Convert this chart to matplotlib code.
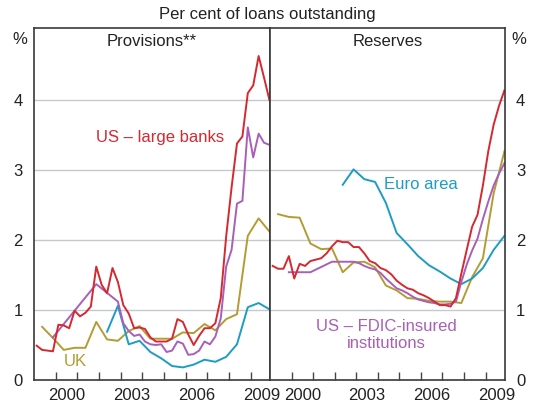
import numpy as np
import matplotlib.pyplot as plt
from matplotlib.ticker import FixedLocator, NullFormatter, FixedFormatter

plt.rcParams['font.family'] = ['Liberation Sans', 'DejaVu Sans']

# Colours
RED = '#d6282f'
PURPLE = '#a95fb8'
OLIVE = '#b49c34'
BLUE = '#1d9cc4'

# Quarterly positions (mid-quarter) and half-year positions
Q = [0.125, 0.375, 0.625, 0.875]

# ---- Provisions (left panel) ----
prov_us_large_x = [y + q for y in range(1999, 2010) for q in Q]
prov_us_large = [0.49, 0.43, 0.42, 0.41,
                 0.79, 0.78, 0.74, 0.99,
                 0.91, 0.96, 1.05, 1.62,
                 1.36, 1.24, 1.60, 1.40,
                 1.07, 0.95, 0.74, 0.75,
                 0.73, 0.61, 0.55, 0.55,
                 0.55, 0.59, 0.87, 0.83,
                 0.65, 0.50, 0.63, 0.74,
                 0.74, 0.81, 1.17, 2.05,
                 2.75, 3.38, 3.48, 4.10,
                 4.21, 4.63, 4.32, 4.00]

prov_fdic_x = [1999.875, 2000.875, 2001.875, 2002.875] + \
    [y + q for y in range(2003, 2010) for q in Q]
prov_fdic = [0.61, 0.99, 1.37, 1.12,
             0.81, 0.70, 0.63, 0.65,
             0.55, 0.51, 0.50, 0.51,
             0.40, 0.42, 0.55, 0.52,
             0.36, 0.37, 0.42, 0.55,
             0.51, 0.62, 0.88, 1.62,
             1.86, 2.52, 2.56, 3.61,
             3.18, 3.52, 3.39, 3.36]

prov_uk_x = [y + h for y in range(1999, 2010) for h in (0.375, 0.875)]
prov_uk = [0.76, 0.60, 0.43, 0.46, 0.46, 0.83, 0.58, 0.56, 0.70, 0.77,
           0.59, 0.59, 0.59, 0.68, 0.67, 0.80, 0.71, 0.87, 0.94, 2.06,
           2.31, 2.12]

prov_euro_x = [y + h for y in range(2002, 2010) for h in (0.375, 0.875)]
prov_euro = [0.69, 1.06, 0.51, 0.56, 0.40, 0.31, 0.20, 0.18, 0.22, 0.29,
             0.26, 0.33, 0.51, 1.04, 1.10, 1.01]

# ---- Reserves (right panel) ----
res_us_large_x = [y + q for y in range(1999, 2010) for q in Q]
res_us_large = [1.63, 1.59, 1.59, 1.77,
                1.45, 1.66, 1.63, 1.70,
                1.72, 1.74, 1.81, 1.91,
                1.99, 1.97, 1.97, 1.90,
                1.90, 1.81, 1.70, 1.67,
                1.60, 1.57, 1.51, 1.42,
                1.36, 1.31, 1.29, 1.24,
                1.21, 1.17, 1.12, 1.07,
                1.07, 1.05, 1.17, 1.52,
                1.86, 2.19, 2.36, 2.78,
                3.27, 3.65, 3.92, 4.14]

res_fdic_x = [1999.875, 2000.875, 2001.875, 2002.875] + \
    [y + q for y in range(2003, 2010) for q in Q]
res_fdic = [1.54, 1.54, 1.69, 1.69,
            1.67, 1.63, 1.60, 1.58,
            1.53, 1.45, 1.38, 1.31,
            1.28, 1.24, 1.19, 1.15,
            1.13, 1.11, 1.10, 1.08,
            1.08, 1.09, 1.12, 1.40,
            1.65, 1.85, 2.02, 2.30,
            2.55, 2.78, 2.95, 3.10]

res_uk_x = [y + h for y in range(1999, 2010) for h in (0.375, 0.875)]
res_uk = [2.37, 2.33, 2.32, 1.95, 1.87, 1.88, 1.54, 1.68, 1.69, 1.61,
          1.35, 1.28, 1.17, 1.16, 1.13, 1.12, 1.12, 1.10, 1.47, 1.74,
          2.67, 3.27]

res_euro_x = [y + h for y in range(2002, 2010) for h in (0.375, 0.875)]
res_euro = [2.79, 3.01, 2.87, 2.83, 2.53, 2.10, 1.94, 1.77, 1.64, 1.55,
            1.45, 1.37, 1.45, 1.60, 1.86, 2.06]

year_ticks = list(range(2000, 2010))
label_pos = [2000.5, 2003.5, 2006.5, 2009.5]
label_text = ['2000', '2003', '2006', '2009']
y_ticks = [0, 1, 2, 3, 4]

W, H = 534, 408
fig = plt.figure(figsize=(W / 100, H / 100), dpi=100)
ax1 = fig.add_axes([34 / W, 28 / H, 236 / W, 352 / H])
ax2 = fig.add_axes([270 / W, 28 / H, 235 / W, 352 / H])

LW = 1.4
ax1.plot(prov_uk_x, prov_uk, color=OLIVE, lw=LW)
ax1.plot(prov_euro_x, prov_euro, color=BLUE, lw=LW)
ax1.plot(prov_fdic_x, prov_fdic, color=PURPLE, lw=LW)
ax1.plot(prov_us_large_x, prov_us_large, color=RED, lw=LW)

ax2.plot(res_uk_x, res_uk, color=OLIVE, lw=LW)
ax2.plot(res_euro_x, res_euro, color=BLUE, lw=LW)
ax2.plot(res_fdic_x, res_fdic, color=PURPLE, lw=LW)
ax2.plot(res_us_large_x, res_us_large, color=RED, lw=LW)

for ax in (ax1, ax2):
    ax.set_xlim(1999, 2009.9)
    ax.set_ylim(0, 5.03)
    ax.xaxis.set_major_locator(FixedLocator(year_ticks))
    ax.xaxis.set_major_formatter(NullFormatter())
    ax.xaxis.set_minor_locator(FixedLocator(label_pos))
    ax.xaxis.set_minor_formatter(FixedFormatter(label_text))
    ax.tick_params(axis='x', which='major', direction='in', length=6,
                   width=1, color='#444444')
    ax.tick_params(axis='x', which='minor', length=0, pad=6,
                   labelsize=12, labelcolor='#222222')
    ax.set_yticks(y_ticks)
    ax.tick_params(axis='y', length=0, labelsize=12, labelcolor='#222222', pad=8)
    ax.grid(axis='y', color='#c5c9ce', lw=1)
    ax.set_axisbelow(True)
    for s in ax.spines.values():
        s.set_color('#3a3a3a')
        s.set_linewidth(1.2)

ax2.yaxis.tick_right()
ax2.tick_params(axis='y', labelright=True, labelleft=False)

ax1.set_title('Provisions**', fontsize=12, color='#222222', y=0.96, va='top')
ax2.set_title('Reserves', fontsize=12, color='#222222', y=0.96, va='top')

fig.text(20 / W, 1 - 40 / H, '%', fontsize=12, ha='center', va='center', color='#222222')
fig.text(519 / W, 1 - 40 / H, '%', fontsize=12, ha='center', va='center', color='#222222')
fig.text(0.5, 1 - 14 / H, 'Per cent of loans outstanding', fontsize=12,
         ha='center', va='center', color='#222222')

ax1.text(2004.8, 3.47, 'US – large banks', color=RED, fontsize=12, ha='center', va='center')
ax1.text(2000.9, 0.26, 'UK', color=OLIVE, fontsize=12, ha='center', va='center')
ax2.text(2006.0, 2.8, 'Euro area', color=BLUE, fontsize=12, ha='center', va='center')
ax2.text(2004.4, 0.64, 'US – FDIC-insured\ninstitutions', color=PURPLE, fontsize=12,
         ha='center', va='center', linespacing=1.2)

fig.savefig('out.png', dpi=100)
